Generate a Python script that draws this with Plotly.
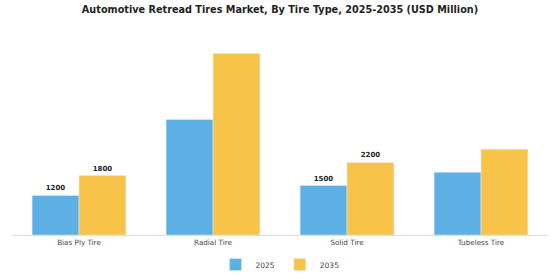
import plotly.graph_objects as go

categories = ["Bias Ply Tire", "Radial Tire", "Solid Tire", "Tubeless Tire"]
values_2025 = [1200, 3500, 1500, 1900]
values_2035 = [1800, 5500, 2200, 2600]
labels_2025 = ["1200", "", "1500", ""]
labels_2035 = ["1800", "", "2200", ""]

label_font = dict(family="DejaVu Sans", size=7, color="#222222", weight="bold")

fig = go.Figure()
fig.add_trace(go.Bar(name="2025", x=categories, y=values_2025, marker_color="#5DB0E4",
                     text=labels_2025, textposition="outside", cliponaxis=False,
                     textfont=label_font))
fig.add_trace(go.Bar(name="2035", x=categories, y=values_2035, marker_color="#F8C349",
                     text=labels_2035, textposition="outside", cliponaxis=False,
                     textfont=label_font))

fig.update_layout(
    width=560, height=280,
    margin=dict(l=12, r=12, t=37, b=45, autoexpand=False),
    paper_bgcolor="white", plot_bgcolor="white",
    barmode="group", bargap=0.3, bargroupgap=0,
    title=dict(text="<b>Automotive Retread Tires Market, By Tire Type, 2025-2035 (USD Million)</b>",
               x=0.5, xanchor="center", y=0.965, yanchor="middle",
               font=dict(family="DejaVu Sans", size=9.7, color="#222222")),
    xaxis=dict(showline=True, linecolor="#DDDDDD", linewidth=1, ticks="",
               tickfont=dict(family="DejaVu Sans", size=7.2, color="#444444")),
    yaxis=dict(range=[0, 6000], visible=False, showgrid=False),
    legend=dict(orientation="h", x=0.5, xanchor="center", yref="container", y=0.055, yanchor="middle",
                font=dict(family="DejaVu Sans", size=7.5, color="#444444"), itemwidth=30),
    showlegend=True,
)
fig.write_html("out.html")
